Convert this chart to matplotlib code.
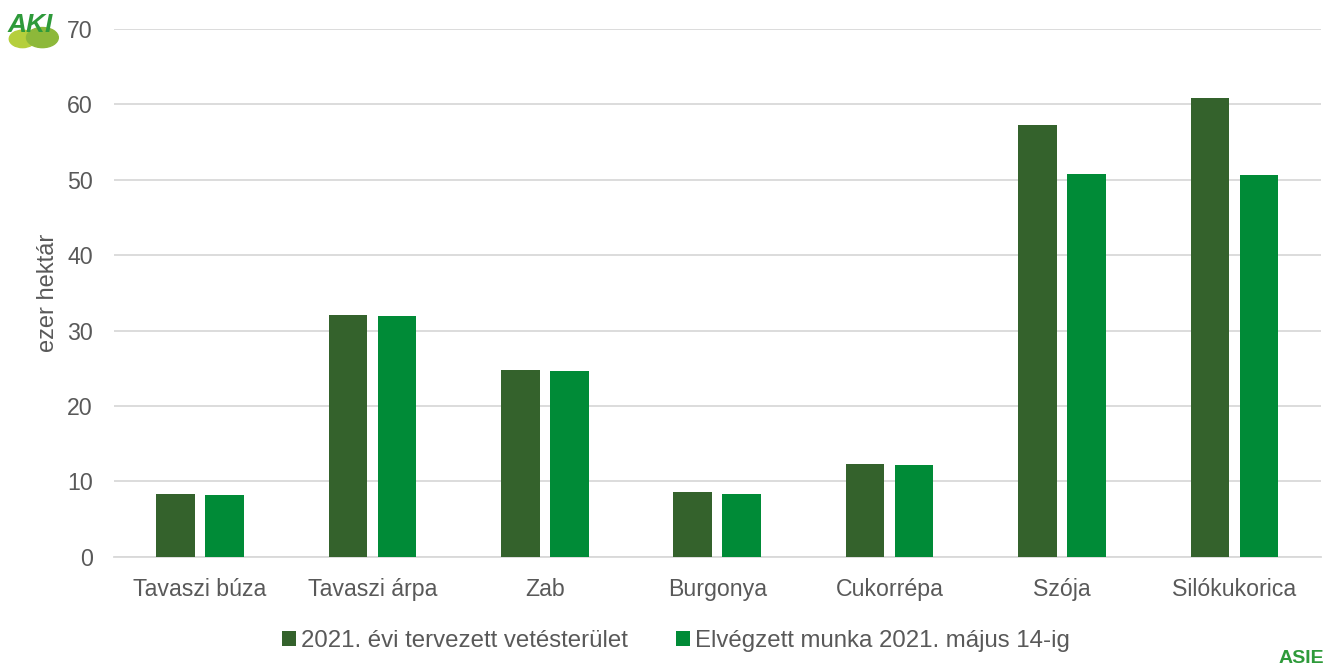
import numpy as np
import matplotlib.pyplot as plt
from matplotlib.patches import Ellipse

plt.rcParams['font.family'] = ['Liberation Sans', 'DejaVu Sans']

categories = ["Tavaszi búza", "Tavaszi árpa", "Zab", "Burgonya", "Cukorrépa", "Szója", "Silókukorica"]
tervezett = [8.3, 32.1, 24.8, 8.6, 12.3, 57.2, 60.9]
elvegzett = [8.2, 32.0, 24.7, 8.4, 12.2, 50.8, 50.6]
series_names = ["2021. évi tervezett vetésterület", "Elvégzett munka 2021. május 14-ig"]

dark = "#34622C"
light = "#008B37"
grey = "#595959"

fig = plt.figure(figsize=(13.25, 6.71), dpi=100)
ax = fig.add_axes([0.0858, 0.170, 0.911, 0.787])

x = np.arange(len(categories))
w = 0.224
ax.bar(x - 0.142, tervezett, w, color=dark, label=series_names[0], zorder=3)
ax.bar(x + 0.142, elvegzett, w, color=light, label=series_names[1], zorder=3)

ax.set_xlim(-0.5, len(categories) - 0.5)
ax.set_ylim(0, 70)
ax.set_yticks(range(0, 71, 10))
ax.set_xticks(x)
ax.set_xticklabels(categories)
ax.tick_params(axis='both', length=0, labelsize=16.7, colors=grey)
ax.tick_params(axis='x', pad=15)
ax.tick_params(axis='y', pad=15)
ax.grid(axis='y', color="#D9D9D9", linewidth=1.3, zorder=0)
for s in ['top', 'right', 'left']:
    ax.spines[s].set_visible(False)
ax.spines['bottom'].set_color("#D9D9D9")
ax.spines['bottom'].set_linewidth(1.3)
ax.set_ylabel("ezer hektár", fontsize=17, color=grey, labelpad=6)

leg = fig.legend(loc='center', bbox_to_anchor=(0.51, 0.045), ncol=2, frameon=False,
                 fontsize=17.3, handlelength=0.6, handleheight=0.6, handletextpad=0.2,
                 columnspacing=2.0)
for t in leg.get_texts():
    t.set_color(grey)

# logos
fig.patches.append(Ellipse((0.017, 0.942), 0.02, 0.026, transform=fig.transFigure,
                           color="#B5CF3C", zorder=1))
fig.patches.append(Ellipse((0.032, 0.944), 0.024, 0.03, transform=fig.transFigure,
                           color="#8DB83A", zorder=1))
fig.text(0.006, 0.953, "AKI", fontsize=19, fontweight='bold', color="#2E9A3A",
         fontstyle='italic', zorder=6)
fig.text(0.999, 0.012, "ASIE", fontsize=14, fontweight='bold', color="#2E9A3A",
         ha='right')

fig.savefig("out.png", dpi=100)
